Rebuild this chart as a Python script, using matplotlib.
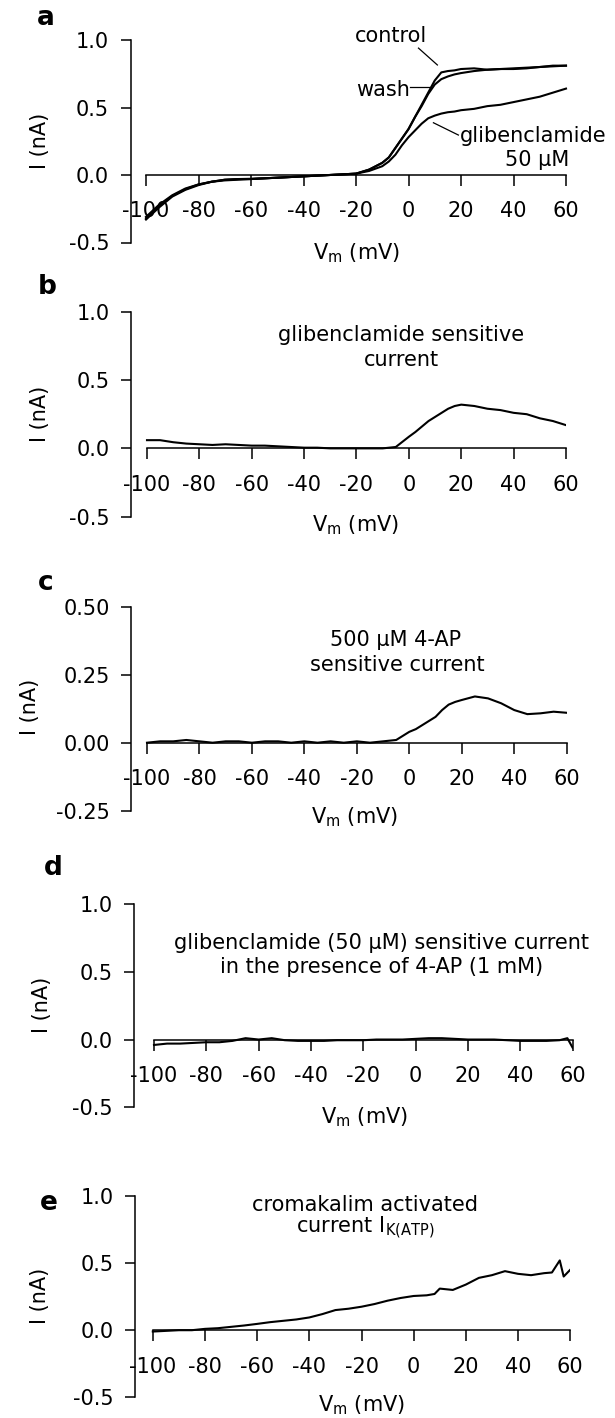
import matplotlib
matplotlib.use("Agg")
import matplotlib.pyplot as plt

plt.rcParams['font.family'] = ['DejaVu Sans']
plt.rcParams['mathtext.fontset'] = 'dejavusans'

# ---------------- data ----------------
# panel a
V_a = [-100, -95, -90, -85, -80, -75, -70, -65, -60, -55, -50, -45, -40, -35, -30, -25,
       -20, -15, -10, -7.5, -5, -2.5, 0, 2.5, 5, 7.5, 10, 12.5, 15, 17.5, 20, 25, 30,
       35, 40, 45, 50, 55, 60]
I_control = [-0.33, -0.24, -0.16, -0.11, -0.075, -0.05, -0.035, -0.03, -0.03, -0.025, -0.02,
             -0.015, -0.01, -0.005, 0.0, 0.005, 0.01, 0.04, 0.09, 0.13, 0.20, 0.27, 0.34,
             0.43, 0.52, 0.61, 0.70, 0.76, 0.77, 0.775, 0.785, 0.79, 0.78, 0.785, 0.79,
             0.795, 0.80, 0.81, 0.81]
I_wash = [-0.32, -0.23, -0.155, -0.105, -0.07, -0.05, -0.035, -0.03, -0.028, -0.024, -0.02,
          -0.015, -0.01, -0.005, 0.0, 0.005, 0.01, 0.04, 0.09, 0.13, 0.20, 0.27, 0.34,
          0.43, 0.51, 0.60, 0.67, 0.71, 0.73, 0.745, 0.755, 0.77, 0.78, 0.785, 0.785,
          0.79, 0.80, 0.805, 0.81]
I_glib = [-0.31, -0.22, -0.15, -0.10, -0.07, -0.05, -0.04, -0.035, -0.03, -0.025, -0.02,
          -0.015, -0.01, -0.005, 0.0, 0.005, 0.01, 0.03, 0.065, 0.10, 0.15, 0.22, 0.28,
          0.33, 0.38, 0.42, 0.44, 0.455, 0.465, 0.47, 0.48, 0.49, 0.51, 0.52, 0.54,
          0.56, 0.58, 0.61, 0.64]

# panel b
V_b = [-100, -95, -90, -85, -80, -75, -70, -65, -60, -55, -50, -45, -40, -35, -30, -25, -20,
       -15, -10, -5, 0, 2.5, 5, 7.5, 10, 12.5, 15, 17.5, 20, 25, 30, 35, 40, 45, 50, 55, 60]
I_b = [0.06, 0.06, 0.045, 0.035, 0.03, 0.025, 0.03, 0.025, 0.02, 0.02, 0.015, 0.01, 0.005,
       0.005, 0.0, 0.0, 0.0, 0.0, 0.0, 0.01, 0.085, 0.12, 0.16, 0.20, 0.23, 0.26, 0.29,
       0.31, 0.32, 0.31, 0.29, 0.28, 0.26, 0.25, 0.22, 0.20, 0.17]

# panel c
V_c = [-100, -95, -90, -85, -80, -75, -70, -65, -60, -55, -50, -45, -40, -35, -30, -25, -20,
       -15, -10, -5, 0, 2.5, 5, 7.5, 10, 12.5, 15, 17.5, 20, 25, 30, 35, 40, 45, 50, 55, 60]
I_c = [0.0, 0.005, 0.005, 0.01, 0.005, 0.0, 0.005, 0.005, 0.0, 0.005, 0.005, 0.0, 0.005,
       0.0, 0.005, 0.0, 0.005, 0.0, 0.005, 0.01, 0.04, 0.05, 0.065, 0.08, 0.095, 0.12,
       0.14, 0.15, 0.157, 0.17, 0.163, 0.145, 0.12, 0.105, 0.108, 0.114, 0.11]

# panel d
V_d = [-100, -95, -90, -85, -80, -75, -70, -65, -60, -55, -50, -45, -40, -35, -30, -25, -20,
       -15, -10, -5, 0, 5, 10, 15, 20, 25, 30, 35, 40, 45, 50, 55, 58, 60]
I_d = [-0.04, -0.03, -0.03, -0.025, -0.02, -0.02, -0.01, 0.01, 0.0, 0.01, -0.005, -0.01,
       -0.01, -0.01, -0.005, -0.005, -0.005, 0.0, 0.0, 0.0, 0.005, 0.01, 0.01, 0.005, 0.0,
       0.0, 0.0, -0.005, -0.01, -0.01, -0.01, -0.005, 0.01, -0.06]

# panel e
V_e = [-100, -95, -90, -85, -80, -75, -70, -65, -60, -55, -50, -45, -40, -35, -30, -25, -20,
       -15, -10, -5, 0, 5, 8, 10, 15, 20, 25, 30, 35, 40, 45, 50, 53, 56, 57.5, 60]
I_e = [-0.01, -0.005, 0.0, 0.0, 0.01, 0.015, 0.025, 0.035, 0.047, 0.06, 0.07, 0.08, 0.095,
       0.12, 0.15, 0.16, 0.175, 0.195, 0.22, 0.24, 0.255, 0.26, 0.27, 0.31, 0.30, 0.34,
       0.39, 0.41, 0.44, 0.42, 0.41, 0.425, 0.43, 0.52, 0.40, 0.45]

x_ticks = [-100, -80, -60, -40, -20, 0, 20, 40, 60]
x_ticklabels = ['-100', '-80', '-60', '-40', '-20', '0', '20', '40', '60']
y_ticks_1 = [-0.5, 0.0, 0.5, 1.0]
y_ticklabels_1 = ['-0.5', '0.0', '0.5', '1.0']
y_ticks_c = [-0.25, 0.0, 0.25, 0.5]
y_ticklabels_c = ['-0.25', '0.00', '0.25', '0.50']

# ---------------- layout ----------------
W, H = 615, 1418
fig = plt.figure(figsize=(W / 100, H / 100), dpi=100)
FS = 15


def make_axes(spine_x, xm100, x60, ytop, ybot, ylim, yticks, ylabels):
    pxmv = (x60 - xm100) / 160.0
    xleft = -100 - (xm100 - spine_x) / pxmv
    ax = fig.add_axes([spine_x / W, 1 - ybot / H, (x60 - spine_x) / W, (ybot - ytop) / H])
    ax.set_xlim(xleft, 60)
    ax.set_ylim(*ylim)
    ax.patch.set_visible(False)
    for s in ['top', 'right']:
        ax.spines[s].set_visible(False)
    ax.spines['bottom'].set_position(('data', 0))
    ax.spines['bottom'].set_bounds(-100, 60)
    ax.spines['bottom'].set_linewidth(1.1)
    ax.spines['left'].set_linewidth(1.1)
    ax.set_xticks(x_ticks)
    ax.set_xticklabels(x_ticklabels)
    ax.set_yticks(yticks)
    ax.set_yticklabels(ylabels)
    ax.tick_params(axis='x', direction='out', length=8, width=1.1, pad=11, labelsize=FS)
    ax.tick_params(axis='y', direction='out', length=7.5, width=1.1, pad=8, labelsize=FS)
    return ax


def ftext(x, y, s, **kw):
    kw.setdefault('ha', 'center')
    kw.setdefault('va', 'center')
    kw.setdefault('fontsize', FS)
    fig.text(x / W, 1 - y / H, s, **kw)


LW = 1.5
VM = r'V$_\mathregular{m}$ (mV)'

# panel a
axa = make_axes(130.7, 146, 566, 40, 242.5, (-0.5, 1.0), y_ticks_1, y_ticklabels_1)
axa.plot(V_a, I_glib, color='black', lw=LW, clip_on=False)
axa.plot(V_a, I_wash, color='black', lw=LW, clip_on=False)
axa.plot(V_a, I_control, color='black', lw=LW, clip_on=False)
axa.plot([3.8, 11.0], [0.94, 0.815], color='black', lw=0.9)
axa.plot([0.6, 8.2], [0.654, 0.654], color='black', lw=0.9)
axa.plot([9.5, 19.0], [0.387, 0.296], color='black', lw=0.9)
ftext(391, 35.5, 'control')
ftext(383, 90, 'wash')
ftext(533, 136, 'glibenclamide')
ftext(537, 160, '50 µM')
ftext(45.6, 18, 'a', fontsize=19, fontweight='bold')
ftext(357, 253, VM)
ftext(40, 141, 'I (nA)', rotation=90)

# panel b
axb = make_axes(131, 147, 566, 311.7, 516.7, (-0.5, 1.0), y_ticks_1, y_ticklabels_1)
axb.plot(V_b, I_b, color='black', lw=LW)
ftext(401, 335, 'glibenclamide sensitive')
ftext(401, 360, 'current')
ftext(47, 287, 'b', fontsize=19, fontweight='bold')
ftext(356, 525, VM)
ftext(40, 414, 'I (nA)', rotation=90)

# panel c
axc = make_axes(131.3, 147, 566.7, 606.7, 810.7, (-0.25, 0.5), y_ticks_c, y_ticklabels_c)
axc.plot(V_c, I_c, color='black', lw=LW)
ftext(396, 640, '500 µM 4-AP')
ftext(397, 665, 'sensitive current')
ftext(45.6, 583, 'c', fontsize=19, fontweight='bold')
ftext(355, 817, VM)
ftext(30, 707, 'I (nA)', rotation=90)

# panel d
axd = make_axes(134.3, 154, 572.6, 904, 1107.3, (-0.5, 1.0), y_ticks_1, y_ticklabels_1)
axd.plot(V_d, I_d, color='black', lw=LW)
ftext(382, 943, 'glibenclamide (50 µM) sensitive current')
ftext(382, 967, 'in the presence of 4-AP (1 mM)')
ftext(53, 868, 'd', fontsize=19, fontweight='bold')
ftext(365, 1117, VM)
ftext(41.7, 1005, 'I (nA)', rotation=90)

# panel e
axe = make_axes(134.9, 152.8, 570.2, 1196, 1397.3, (-0.5, 1.0), y_ticks_1, y_ticklabels_1)
axe.plot(V_e, I_e, color='black', lw=LW)
ftext(365, 1205, 'cromakalim activated')
ftext(365, 1228, r'current I$_\mathregular{K(ATP)}$')
ftext(49, 1203, 'e', fontsize=19, fontweight='bold')
ftext(362, 1405, VM)
ftext(40, 1296, 'I (nA)', rotation=90)

fig.savefig('out.png', dpi=100)
